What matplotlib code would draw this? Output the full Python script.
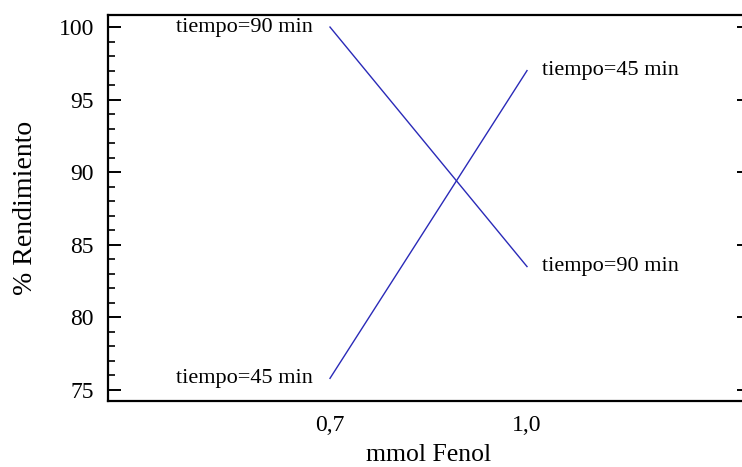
import matplotlib
matplotlib.use("Agg")
import matplotlib.pyplot as plt
from matplotlib.ticker import MultipleLocator, FixedLocator

x_vals = [0.7, 1.0]
x_labels = ["0,7", "1,0"]
t45 = [75.8, 97.0]
t90 = [100.0, 83.5]
series = [("tiempo=45 min", t45), ("tiempo=90 min", t90)]
y_ticks = [75, 80, 85, 90, 95, 100]

plt.rcParams['font.family'] = ['Liberation Serif', 'DejaVu Serif']

W, H = 742, 467
fig = plt.figure(figsize=(W/100, H/100), dpi=100)
L, R, T, B = 108, 749, 15, 401
ax = fig.add_axes([L/W, (H-B)/H, (R-L)/W, (B-T)/H])

line_color = '#2a2ab8'
for name, ys in series:
    ax.plot(x_vals, ys, color=line_color, lw=1.0)
    ax.annotate(name, (x_vals[0], ys[0]), xytext=(-12, 0), textcoords='offset points',
                ha='right', va='center', fontsize=16)
    ax.annotate(name, (x_vals[1], ys[1]), xytext=(11, 0), textcoords='offset points',
                ha='left', va='center', fontsize=16)

ax.set_xlim(0.362, 1.338)
ax.set_ylim(74.24, 100.83)
ax.xaxis.set_major_locator(FixedLocator(x_vals))
ax.set_xticklabels(x_labels)
ax.yaxis.set_major_locator(FixedLocator(y_ticks))
ax.yaxis.set_minor_locator(MultipleLocator(1))

ax.tick_params(axis='x', length=0, labelsize=17, pad=10)
ax.tick_params(axis='y', which='major', direction='in', length=9, width=1.4,
               labelsize=17, pad=10, right=True)
ax.tick_params(axis='y', which='minor', direction='in', length=5, width=1.2, right=False)

for s in ax.spines.values():
    s.set_linewidth(1.6)
    s.set_color('black')

ax.set_xlabel("mmol Fenol", fontsize=18.5, labelpad=6)
ax.set_ylabel("% Rendimiento", fontsize=20, labelpad=15)

fig.savefig("out.png", dpi=100)
